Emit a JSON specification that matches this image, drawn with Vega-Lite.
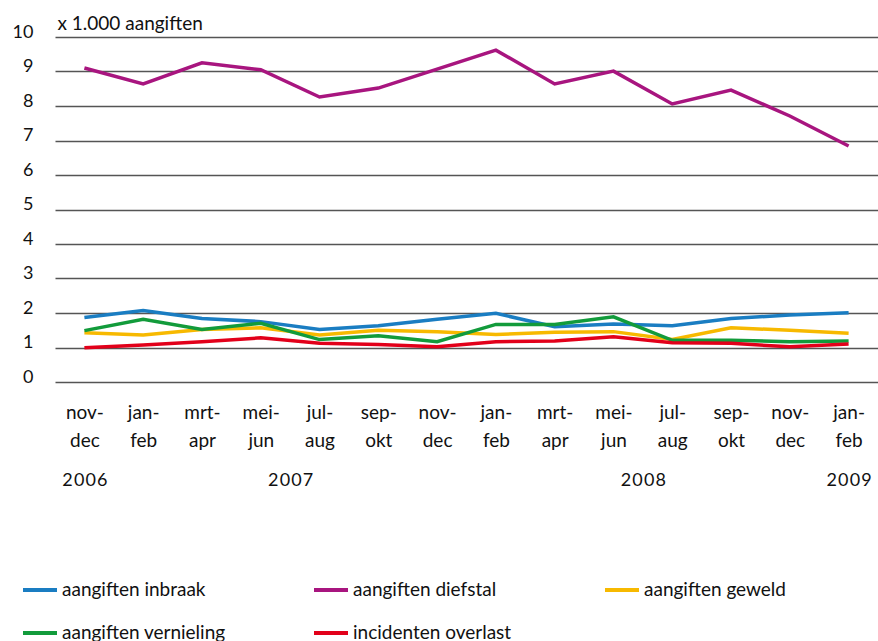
{
  "$schema": "https://vega.github.io/schema/vega-lite/v6.json",
  "width": 823,
  "height": 345,
  "autosize": {"type": "none"},
  "padding": {"left": 55, "top": 37, "right": 0, "bottom": 259},
  "background": "white",
  "config": {"font": "Lato", "view": {"stroke": null}},
  "datasets": {
    "reeksen": [
      {"periode": "nov-dec 2006", "reeks": "aangiften inbraak", "waarde": 1.87},
      {"periode": "jan-feb 2007", "reeks": "aangiften inbraak", "waarde": 2.07},
      {"periode": "mrt-apr 2007", "reeks": "aangiften inbraak", "waarde": 1.84},
      {"periode": "mei-jun 2007", "reeks": "aangiften inbraak", "waarde": 1.75},
      {"periode": "jul-aug 2007", "reeks": "aangiften inbraak", "waarde": 1.52},
      {"periode": "sep-okt 2007", "reeks": "aangiften inbraak", "waarde": 1.63},
      {"periode": "nov-dec 2007", "reeks": "aangiften inbraak", "waarde": 1.82},
      {"periode": "jan-feb 2008", "reeks": "aangiften inbraak", "waarde": 1.99},
      {"periode": "mrt-apr 2008", "reeks": "aangiften inbraak", "waarde": 1.60},
      {"periode": "mei-jun 2008", "reeks": "aangiften inbraak", "waarde": 1.68},
      {"periode": "jul-aug 2008", "reeks": "aangiften inbraak", "waarde": 1.63},
      {"periode": "sep-okt 2008", "reeks": "aangiften inbraak", "waarde": 1.84},
      {"periode": "nov-dec 2008", "reeks": "aangiften inbraak", "waarde": 1.94},
      {"periode": "jan-feb 2009", "reeks": "aangiften inbraak", "waarde": 2.01},
      {"periode": "nov-dec 2006", "reeks": "aangiften diefstal", "waarde": 9.10},
      {"periode": "jan-feb 2007", "reeks": "aangiften diefstal", "waarde": 8.64},
      {"periode": "mrt-apr 2007", "reeks": "aangiften diefstal", "waarde": 9.25},
      {"periode": "mei-jun 2007", "reeks": "aangiften diefstal", "waarde": 9.05},
      {"periode": "jul-aug 2007", "reeks": "aangiften diefstal", "waarde": 8.26},
      {"periode": "sep-okt 2007", "reeks": "aangiften diefstal", "waarde": 8.52},
      {"periode": "nov-dec 2007", "reeks": "aangiften diefstal", "waarde": 9.07},
      {"periode": "jan-feb 2008", "reeks": "aangiften diefstal", "waarde": 9.62},
      {"periode": "mrt-apr 2008", "reeks": "aangiften diefstal", "waarde": 8.64},
      {"periode": "mei-jun 2008", "reeks": "aangiften diefstal", "waarde": 9.01},
      {"periode": "jul-aug 2008", "reeks": "aangiften diefstal", "waarde": 8.06},
      {"periode": "sep-okt 2008", "reeks": "aangiften diefstal", "waarde": 8.46},
      {"periode": "nov-dec 2008", "reeks": "aangiften diefstal", "waarde": 7.71},
      {"periode": "jan-feb 2009", "reeks": "aangiften diefstal", "waarde": 6.84},
      {"periode": "nov-dec 2006", "reeks": "aangiften geweld", "waarde": 1.43},
      {"periode": "jan-feb 2007", "reeks": "aangiften geweld", "waarde": 1.36},
      {"periode": "mrt-apr 2007", "reeks": "aangiften geweld", "waarde": 1.52},
      {"periode": "mei-jun 2007", "reeks": "aangiften geweld", "waarde": 1.57},
      {"periode": "jul-aug 2007", "reeks": "aangiften geweld", "waarde": 1.36},
      {"periode": "sep-okt 2007", "reeks": "aangiften geweld", "waarde": 1.50},
      {"periode": "nov-dec 2007", "reeks": "aangiften geweld", "waarde": 1.46},
      {"periode": "jan-feb 2008", "reeks": "aangiften geweld", "waarde": 1.38},
      {"periode": "mrt-apr 2008", "reeks": "aangiften geweld", "waarde": 1.44},
      {"periode": "mei-jun 2008", "reeks": "aangiften geweld", "waarde": 1.46},
      {"periode": "jul-aug 2008", "reeks": "aangiften geweld", "waarde": 1.23},
      {"periode": "sep-okt 2008", "reeks": "aangiften geweld", "waarde": 1.57},
      {"periode": "nov-dec 2008", "reeks": "aangiften geweld", "waarde": 1.50},
      {"periode": "jan-feb 2009", "reeks": "aangiften geweld", "waarde": 1.41},
      {"periode": "nov-dec 2006", "reeks": "aangiften vernieling", "waarde": 1.49},
      {"periode": "jan-feb 2007", "reeks": "aangiften vernieling", "waarde": 1.82},
      {"periode": "mrt-apr 2007", "reeks": "aangiften vernieling", "waarde": 1.52},
      {"periode": "mei-jun 2007", "reeks": "aangiften vernieling", "waarde": 1.70},
      {"periode": "jul-aug 2007", "reeks": "aangiften vernieling", "waarde": 1.23},
      {"periode": "sep-okt 2007", "reeks": "aangiften vernieling", "waarde": 1.34},
      {"periode": "nov-dec 2007", "reeks": "aangiften vernieling", "waarde": 1.17},
      {"periode": "jan-feb 2008", "reeks": "aangiften vernieling", "waarde": 1.67},
      {"periode": "mrt-apr 2008", "reeks": "aangiften vernieling", "waarde": 1.67},
      {"periode": "mei-jun 2008", "reeks": "aangiften vernieling", "waarde": 1.89},
      {"periode": "jul-aug 2008", "reeks": "aangiften vernieling", "waarde": 1.21},
      {"periode": "sep-okt 2008", "reeks": "aangiften vernieling", "waarde": 1.21},
      {"periode": "nov-dec 2008", "reeks": "aangiften vernieling", "waarde": 1.17},
      {"periode": "jan-feb 2009", "reeks": "aangiften vernieling", "waarde": 1.19},
      {"periode": "nov-dec 2006", "reeks": "incidenten overlast", "waarde": 0.99},
      {"periode": "jan-feb 2007", "reeks": "incidenten overlast", "waarde": 1.07},
      {"periode": "mrt-apr 2007", "reeks": "incidenten overlast", "waarde": 1.17},
      {"periode": "mei-jun 2007", "reeks": "incidenten overlast", "waarde": 1.28},
      {"periode": "jul-aug 2007", "reeks": "incidenten overlast", "waarde": 1.12},
      {"periode": "sep-okt 2007", "reeks": "incidenten overlast", "waarde": 1.09},
      {"periode": "nov-dec 2007", "reeks": "incidenten overlast", "waarde": 1.02},
      {"periode": "jan-feb 2008", "reeks": "incidenten overlast", "waarde": 1.17},
      {"periode": "mrt-apr 2008", "reeks": "incidenten overlast", "waarde": 1.19},
      {"periode": "mei-jun 2008", "reeks": "incidenten overlast", "waarde": 1.31},
      {"periode": "jul-aug 2008", "reeks": "incidenten overlast", "waarde": 1.14},
      {"periode": "sep-okt 2008", "reeks": "incidenten overlast", "waarde": 1.12},
      {"periode": "nov-dec 2008", "reeks": "incidenten overlast", "waarde": 1.02},
      {"periode": "jan-feb 2009", "reeks": "incidenten overlast", "waarde": 1.10}
    ],
    "jaren": [
      {"pos": 1, "jaar": "2006"},
      {"pos": 4.5, "jaar": "2007"},
      {"pos": 10.5, "jaar": "2008"},
      {"pos": 14, "jaar": "2009"}
    ]
  },
  "layer": [
    {
      "data": {"name": "reeksen"},
      "mark": {"type": "line", "strokeWidth": 3.5},
      "encoding": {
        "x": {
          "field": "periode",
          "type": "ordinal",
          "sort": null,
          "scale": {"type": "point", "padding": 0.5},
          "axis": {
            "title": null,
            "labelAngle": 0,
            "labelExpr": "[slice(datum.value,0,4), slice(datum.value,4,7)]",
            "labelFontSize": 19,
            "labelColor": "#111",
            "labelLineHeight": 28,
            "labelBaseline": "top",
            "labelPadding": 21,
            "ticks": false,
            "domain": false,
            "grid": false
          }
        },
        "y": {
          "field": "waarde",
          "type": "quantitative",
          "scale": {"domain": [0, 10]},
          "axis": {
            "title": "x 1.000 aangiften",
            "titleAngle": 0,
            "titleAlign": "left",
            "titleBaseline": "alphabetic",
            "titleX": 2,
            "titleY": -8,
            "titleFontSize": 19,
            "titleFontWeight": "normal",
            "titleColor": "#111",
            "values": [0, 1, 2, 3, 4, 5, 6, 7, 8, 9, 10],
            "labelFontSize": 18,
            "labelColor": "#111",
            "labelPadding": 22,
            "labelOffset": -5,
            "ticks": false,
            "domain": false,
            "gridColor": "#555",
            "gridWidth": 1.3
          }
        },
        "color": {
          "field": "reeks",
          "type": "nominal",
          "scale": {
            "domain": ["aangiften inbraak", "aangiften diefstal", "aangiften geweld", "aangiften vernieling", "incidenten overlast"],
            "range": ["#1a7dc2", "#a8157f", "#f7b900", "#129b3b", "#e2001a"]
          },
          "legend": {
            "title": null,
            "orient": "none",
            "direction": "horizontal",
            "legendX": -34,
            "legendY": 534,
            "columns": 3,
            "gridAlign": "all",
            "columnPadding": 80,
            "rowPadding": 14,
            "padding": 0,
            "symbolType": "stroke",
            "symbolSize": 1156,
            "symbolStrokeWidth": 4,
            "labelFontSize": 19,
            "labelColor": "#111",
            "labelOffset": 3,
            "labelLimit": 300
          }
        }
      }
    },
    {
      "data": {"name": "jaren"},
      "mark": {"type": "rule", "opacity": 0},
      "encoding": {
        "x": {
          "field": "pos",
          "type": "quantitative",
          "scale": {"domain": [0.5, 14.5], "nice": false, "zero": false},
          "axis": {
            "orient": "bottom",
            "title": null,
            "values": [1, 4.5, 10.5, 14],
            "labelExpr": "datum.value == 1 ? '2\u200a0\u200a0\u200a6' : datum.value == 4.5 ? '2\u200a0\u200a0\u200a7' : datum.value == 10.5 ? '2\u200a0\u200a0\u200a8' : '2\u200a0\u200a0\u200a9'",
            "labelFontSize": 18,
            "labelColor": "#111",
            "labelBaseline": "top",
            "labelPadding": 89,
            "ticks": false,
            "domain": false,
            "grid": false
          }
        }
      }
    }
  ],
  "resolve": {"scale": {"x": "independent"}, "axis": {"x": "independent"}}
}
